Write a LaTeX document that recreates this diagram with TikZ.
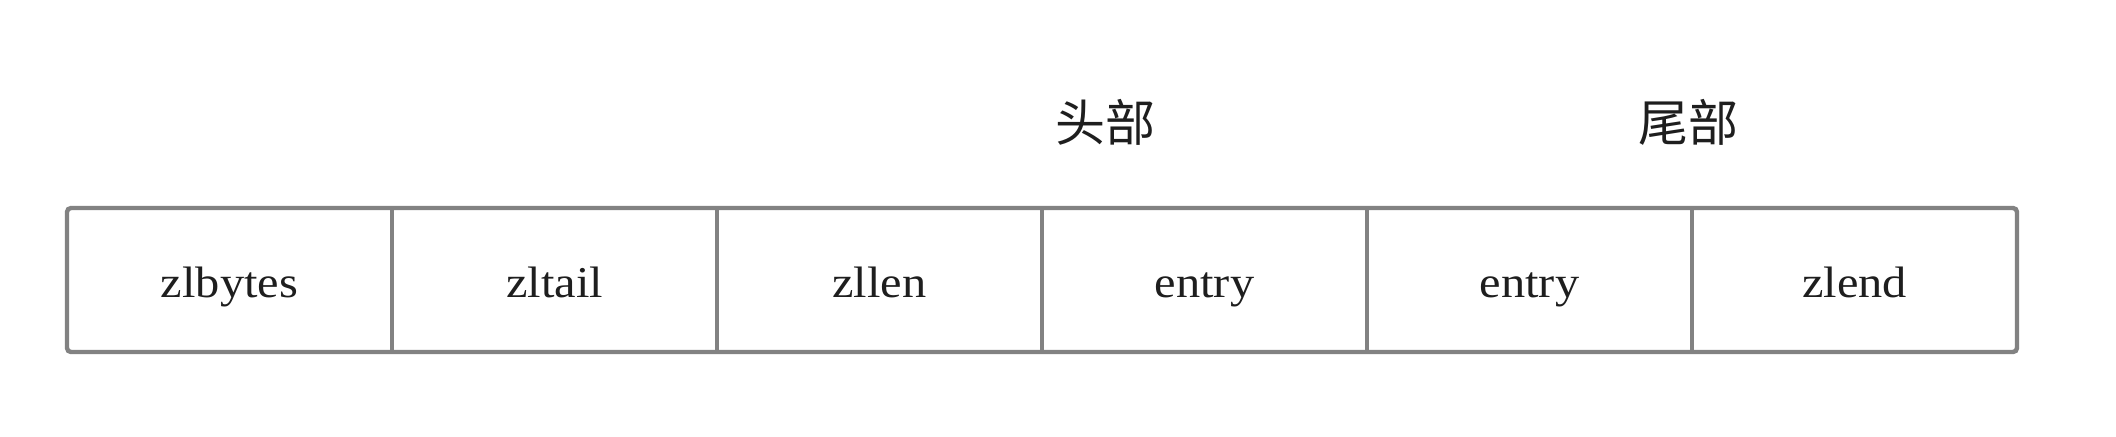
\documentclass[tikz,border=0pt]{standalone}
\usepackage{fontspec}
\setmainfont{Liberation Serif}
\newfontfamily\cjk{Noto Sans CJK SC}
\definecolor{linegray}{RGB}{130,130,130}
\definecolor{textdark}{RGB}{30,30,30}
\newcommand{\wide}[1]{\scalebox{1.1}[1]{#1}}
\begin{document}
\begin{tikzpicture}[x=0.5pt,y=-0.5pt,
  cell/.style={draw=linegray, line width=2.2pt, minimum width=162.5pt, minimum height=72pt,
    inner sep=0pt, outer sep=0pt, anchor=north west},
  frame/.style={draw=linegray, line width=2.2pt, rounded corners=2pt},
  lbl/.style={anchor=base, text=textdark, font=\fontsize{22}{22}\selectfont, inner sep=0pt},
  head/.style={text=textdark, font=\cjk\fontsize{25}{25}\selectfont, inner sep=0pt}]
\useasboundingbox[fill=white] (0,0) rectangle (2116,436);
\node[cell, draw=none] (c1) at (67,208) {};
\node[cell] (c2) at (392,208) {};
\node[cell] (c3) at (717,208) {};
\node[cell] (c4) at (1042,208) {};
\node[cell] (c5) at (1367,208) {};
\node[cell, draw=none] (c6) at (1692,208) {};
\draw[frame] (c1.north west) rectangle (c6.south east);
\node[lbl] (t1) at (229.5,297) {\wide{zlbytes}};
\node[lbl] (t2) at (554.5,297) {\wide{zltail}};
\node[lbl] (t3) at (879.5,297) {\wide{zllen}};
\node[lbl] (t4) at (1204.5,297) {\wide{entry}};
\node[lbl] (t5) at (1529.5,297) {\wide{entry}};
\node[lbl] (t6) at (1854.5,297) {\wide{zlend}};
\node[head] (h1) at (1105,122) {头部};
\node[head] (h2) at (1688,122) {尾部};
\end{tikzpicture}
\end{document}
